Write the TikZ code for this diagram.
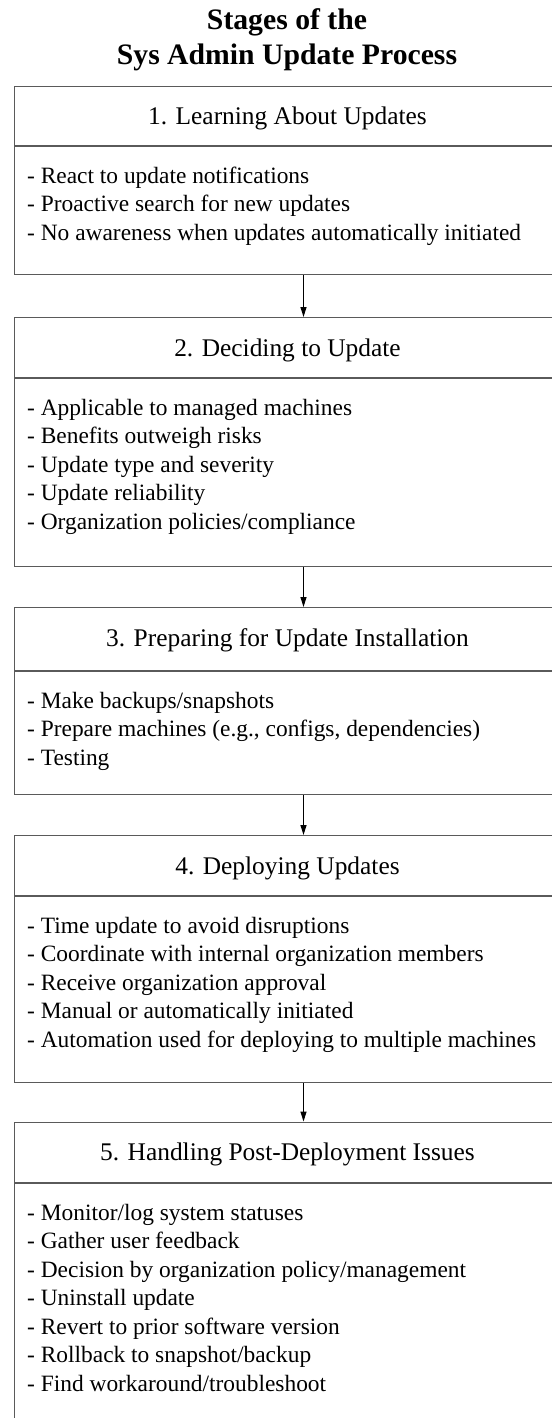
\documentclass[tikz,border=0pt]{standalone}
\usepackage{fontspec}
\setmainfont{Liberation Serif}
\usetikzlibrary{arrows.meta}
\definecolor{boxline}{RGB}{90,90,90}
\tikzset{
  stagebox/.style={draw=boxline, line width=1.3bp, inner sep=0pt,
    minimum width=547bp, anchor=north west},
  divider/.style={draw=boxline, line width=1.3bp},
  stagehead/.style={anchor=base, inner sep=0pt,
    font=\fontsize{25.4bp}{30bp}\selectfont},
  stageitem/.style={anchor=base west, inner sep=0pt,
    font=\fontsize{23.4bp}{28.5bp}\selectfont},
  titletext/.style={anchor=base, inner sep=0pt,
    font=\fontsize{29.7bp}{35bp}\selectfont\bfseries},
  flow/.style={-{Triangle[width=6bp,length=10bp]}, line width=1.2bp, black},
}
% #1 name, #2 top, #3 divider, #4 bottom, #5 heading, #6 items
\newcommand\drawstage[6]{%
  \node[stagebox, minimum height={(#4-#2)*1bp}] (#1) at (14,#2) {};
  \coordinate (#1d) at (0,#3);
  \draw[divider] (#1.west |- #1d) -- (#1.east |- #1d);
  \node[stagehead] (#1h) at (287.5,#2+39) {#5};
  \foreach \t [count=\k] in {#6}
    \node[stageitem] (#1i\k) at (27,{#3+37.3+(\k-1)*28.5}) {\t};
}
\begin{document}
\begin{tikzpicture}[x=1bp,y=-1bp]
  \useasboundingbox (0,0) rectangle (552,1418);
  \clip (0,0) rectangle (552,1418);

  \node[titletext] (title1) at (287,30) {Stages of the};
  \node[titletext] (title2) at (287,65) {Sys Admin Update Process};

  \drawstage{s1}{86}{146}{274}{1. Learning About Updates}{%
    {- React to update notifications},
    {- Proactive search for new updates},
    {- No awareness when updates automatically initiated}}
  \drawstage{s2}{317}{378}{566}{2. Deciding to Update}{%
    {- Applicable to managed machines},
    {- Benefits outweigh risks},
    {- Update type and severity},
    {- Update reliability},
    {- Organization policies/compliance}}
  \drawstage{s3}{607}{671}{794}{3. Preparing for Update Installation}{%
    {- Make backups/snapshots},
    {- Prepare machines (e.g., configs, dependencies)},
    {- Testing}}
  \drawstage{s4}{835}{896}{1082}{4. Deploying Updates}{%
    {- Time update to avoid disruptions},
    {- Coordinate with internal organization members},
    {- Receive organization approval},
    {- Manual or automatically initiated},
    {- Automation used for deploying to multiple machines}}
  \drawstage{s5}{1121.5}{1183}{1440}{5. Handling Post-Deployment Issues}{%
    {- Monitor/log system statuses},
    {- Gather user feedback},
    {- Decision by organization policy/management},
    {- Uninstall update},
    {- Revert to prior software version},
    {- Rollback to snapshot/backup},
    {- Find workaround/troubleshoot}}

  \coordinate (ax) at (303.5,0);
  \draw[flow] (ax |- s1.south) -- (ax |- s2.north);
  \draw[flow] (ax |- s2.south) -- (ax |- s3.north);
  \draw[flow] (ax |- s3.south) -- (ax |- s4.north);
  \draw[flow] (ax |- s4.south) -- (ax |- s5.north);
\end{tikzpicture}
\end{document}
